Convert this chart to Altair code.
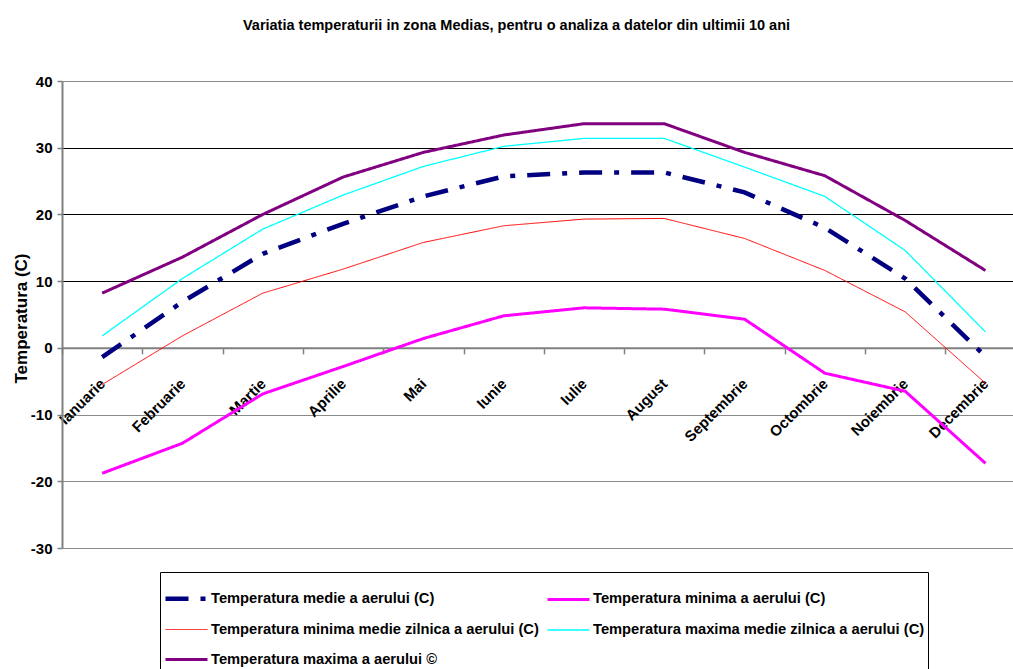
import altair as alt
import pandas as pd

# Monthly temperatures in the Medias area (10-year analysis)
months = ["Ianuarie", "Februarie", "Martie", "Aprilie", "Mai", "Iunie",
          "Iulie", "August", "Septembrie", "Octombrie", "Noiembrie", "Decembrie"]

S_MEDIE = "Temperatura medie a aerului (C)"
S_MIN = "Temperatura minima a aerului (C)"
S_MIN_ZI = "Temperatura minima medie zilnica a aerului (C)"
S_MAX_ZI = "Temperatura maxima medie zilnica a aerului (C)"
S_MAX = "Temperatura maxima a aerului \u00a9"

medie = [-1.4, 6.9, 14.1, 18.6, 22.7, 25.7, 26.3, 26.3, 23.3, 18.0, 10.4, -1.3]
minima = [-18.8, -14.3, -6.9, -2.8, 1.4, 4.8, 6.0, 5.8, 4.3, -3.8, -6.5, -17.3]
minima_medie_zilnica = [-5.5, 1.8, 8.2, 11.8, 15.8, 18.3, 19.3, 19.4, 16.4, 11.6, 5.4, -5.3]
maxima_medie_zilnica = [1.8, 10.4, 17.8, 22.9, 27.2, 30.2, 31.4, 31.4, 27.1, 22.7, 14.6, 2.4]
maxima = [8.2, 13.6, 20.0, 25.6, 29.3, 31.9, 33.6, 33.6, 29.3, 25.8, 19.1, 11.6]

# legend is filled column by column: left column first, then right column
series_order = [S_MEDIE, S_MIN_ZI, S_MAX, S_MIN, S_MAX_ZI]
colors = ["#000080", "#FF0000", "#800080", "#FF00FF", "#00FFFF"]
widths = [4.5, 1, 3, 3, 1.3]
dashes = [[23, 12, 5, 12], [1, 0], [1, 0], [1, 0], [1, 0]]

values_by_series = {
    S_MEDIE: medie,
    S_MIN: minima,
    S_MIN_ZI: minima_medie_zilnica,
    S_MAX_ZI: maxima_medie_zilnica,
    S_MAX: maxima,
}

rows = []
for name, vals in values_by_series.items():
    for i, (m, v) in enumerate(zip(months, vals)):
        rows.append({"luna": m, "idx": i, "serie": name, "temp": v})
df = pd.DataFrame(rows)

FONT = "Liberation Sans, Arial, sans-serif"

W, H = 951, 467          # plot area (right edge runs past the page)
STEP = 80.3              # width of one month band
Y_MIN, Y_MAX = -30, 40

x = alt.X(
    "luna:N",
    sort=months,
    bandPosition=0.5,
    scale=alt.Scale(type="band", domain=months, range=[0, STEP * 12],
                    paddingInner=0, paddingOuter=0),
    axis=alt.Axis(
        title=None,
        tickBand="extent",
        offset=-H * (0 - Y_MIN) / (Y_MAX - Y_MIN),
        labelAngle=-45,
        labelAlign="right",
        labelBaseline="middle",
        labelPadding=27,
        labelOverlap=False,
        labelFont=FONT,
        labelFontSize=15,
        labelFontWeight="bold",
        labelColor="black",
        tickSize=6,
        tickColor="#808080",
        tickWidth=1.5,
        domainColor="#808080",
        domainWidth=2,
        grid=False,
    ),
)

y = alt.Y(
    "temp:Q",
    scale=alt.Scale(domain=[Y_MIN, Y_MAX], nice=False, zero=False),
    axis=alt.Axis(
        values=list(range(Y_MIN, Y_MAX + 1, 10)),
        labelExpr="'' + datum.value",
        title="Temperatura (C)",
        titleFont=FONT,
        titleFontSize=17,
        titleFontWeight="bold",
        titleColor="black",
        titleX=-41,
        titleY=237,
        titleAlign="center",
        titleBaseline="middle",
        titleAngle=270,
        labelFont=FONT,
        labelFontSize=15,
        labelFontWeight="bold",
        labelColor="black",
        labelPadding=5,
        tickSize=5,
        tickColor="#808080",
        tickWidth=1.5,
        domainColor="#808080",
        domainWidth=2,
        grid=True,
        gridColor={"condition": {"test": "datum.value < 0 || datum.value >= 40",
                                 "value": "#8a8a8a"},
                   "value": "black"},
        gridWidth=1,
    ),
)

legend = alt.Legend(
    title=None,
    orient="none",
    legendX=98,
    legendY=491,
    columns=2,
    symbolType="stroke",
    symbolSize=1764,
    labelFont=FONT,
    labelFontSize=14.7,
    labelFontWeight="bold",
    labelColor="black",
    labelLimit=0,
    labelOffset=1,
    rowPadding=-8.5,
    columnPadding=2,
    padding=3,
    strokeColor="black",
    fillColor="white",
)

chart = alt.Chart(df).mark_line().encode(
    x=x,
    y=y,
    order="idx:Q",
    color=alt.Color("serie:N", scale=alt.Scale(domain=series_order, range=colors),
                    legend=legend),
    strokeDash=alt.StrokeDash("serie:N",
                              scale=alt.Scale(domain=series_order, range=dashes)),
    strokeWidth=alt.StrokeWidth("serie:N",
                                scale=alt.Scale(type="ordinal", domain=series_order,
                                                range=widths)),
).properties(
    width=W,
    height=H,
    autosize=alt.AutoSizeParams(type="none"),
    padding={"left": 62, "top": 81, "right": 0, "bottom": 121},
    title=alt.TitleParams(
        text="Variatia temperaturii in zona Medias, pentru o analiza a datelor din ultimii 10 ani",
        font=FONT,
        fontSize=14.5,
        fontWeight="bold",
        color="black",
        anchor="middle",
        baseline="alphabetic",
        dx=-21,
        offset=30,
    ),
).configure_view(stroke=None)

chart.save("out.html", embed_options={"renderer": "svg", "actions": False})
